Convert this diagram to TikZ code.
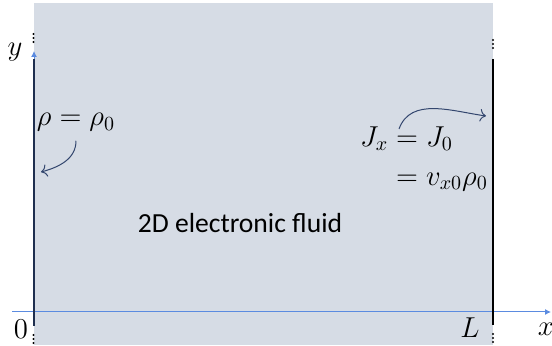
\documentclass[tikz,border=0pt]{standalone}
\usepackage{amsmath}
\usepackage{fontspec}
\setsansfont{Carlito}
\usetikzlibrary{arrows.meta}
\definecolor{fluid}{HTML}{D6DCE5}
\definecolor{axisblue}{HTML}{5B8BE0}
\definecolor{navy}{HTML}{1F2F4F}
\definecolor{slate}{HTML}{33466E}
\newcommand{\lbl}{\fontsize{13.8}{16.5}\selectfont}

\begin{document}
\begin{tikzpicture}[x=0.5pt, y=-0.5pt, line width=0.5pt]
  \useasboundingbox (0,0) rectangle (552,346);
  \fill[fluid] (34,3) rectangle (493,345);
  % axes
  \draw[axisblue, -{Latex[length=3pt,width=3pt]}] (12,312) -- (551,312);
  \draw[axisblue, -{Latex[length=3pt,width=3pt]}] (34,326) -- (34,51);
  % edges of the strip
  \draw[navy, line width=1pt] (34,59) -- (34,326);
  \draw[black, line width=1pt] (493,59) -- (493,325);
  \foreach \y in {34, 38, 42, 335, 339, 343} { \fill (33.5,\y) circle (0.6pt); }
  \foreach \y in {40, 44, 48, 334, 338, 342} { \fill (493,\y) circle (0.6pt); }
  % labels
  \node[font=\lbl] (ylab) at (15,52) {$y$};
  \node[font=\lbl] (zero) at (21,329) {$0$};
  \node[font=\lbl] (Llab) at (470,328) {$L$};
  \node[font=\lbl] (xlab) at (546,329) {$x$};
  \node[font=\lbl, anchor=base] (rho) at (76,126) {$\rho=\rho_0$};
  \node[font=\lbl] (current) at (424,159)
    {$\begin{aligned} J_x &= J_0\\ &= v_{x0}\rho_0 \end{aligned}$};
  \node[font=\lbl\sffamily, anchor=base] (fluidlab) at (240,233) {2D electronic fluid};
  % pointers
  \coordinate (rhoend) at (41,172);
  \coordinate (jstart) at (399,129);
  \coordinate (jend) at (486,116);
  \draw[slate, -{To[length=3pt]}] ([yshift=-1pt]rho.south) to[out=-90, in=15] (rhoend);
  \draw[slate, -{To[length=3pt]}] (jstart) to[out=70, in=172] (jend);
\end{tikzpicture}
\end{document}
